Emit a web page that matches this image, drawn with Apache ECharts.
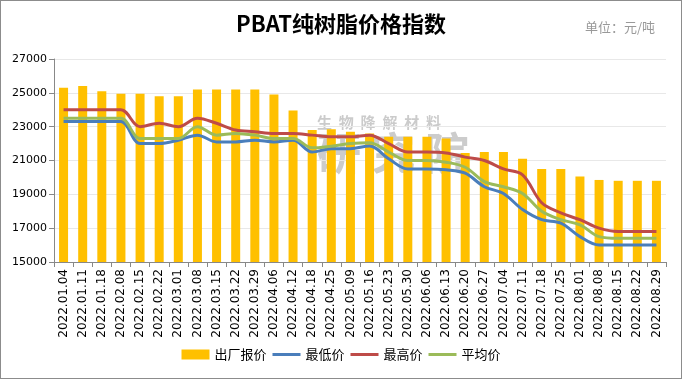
<!DOCTYPE html>
<html><head><meta charset="utf-8">
<script src="https://cdn.jsdelivr.net/npm/echarts@6/dist/echarts.min.js"></script>
<style>html,body{margin:0;padding:0;background:#fff}#c{width:682px;height:379px;box-sizing:border-box;border:1px solid #8c8c8c}</style>
</head><body><div id="c"></div>
<script>
const categories = ['2022.01.04','2022.01.11','2022.01.18','2022.02.08','2022.02.15','2022.02.22','2022.03.01','2022.03.08','2022.03.15','2022.03.22','2022.03.29','2022.04.06','2022.04.12','2022.04.18','2022.04.25','2022.05.09','2022.05.16','2022.05.23','2022.05.30','2022.06.06','2022.06.13','2022.06.20','2022.06.27','2022.07.04','2022.07.11','2022.07.18','2022.07.25','2022.08.01','2022.08.08','2022.08.15','2022.08.22','2022.08.29'];
const factoryPrice = [25300,25400,25100,24950,24950,24800,24800,25200,25200,25200,25200,24900,23950,22800,22850,22700,22600,22400,22400,22400,22300,21450,21500,21500,21100,20500,20500,20050,19850,19800,19800,19800];
const minPrice = [23300,23300,23300,23300,22000,22000,22200,22500,22100,22100,22200,22100,22200,21500,21700,21700,21850,21100,20500,20500,20450,20250,19450,19050,18100,17500,17300,16500,16000,16000,16000,16000];
const maxPrice = [24000,24000,24000,24000,23000,23200,23000,23500,23200,22800,22700,22600,22600,22500,22400,22400,22500,22000,21500,21500,21450,21200,21000,20500,20150,18500,17900,17500,17000,16800,16800,16800];
const avgPrice = [23500,23500,23500,23500,22300,22300,22300,23000,22500,22600,22500,22300,22300,21750,21850,22000,22050,21500,21000,21000,20900,20600,19750,19450,19050,18000,17500,17200,16500,16400,16400,16400];
const yTicks = {min:15000, max:27000, interval:2000};

const chart = echarts.init(document.getElementById('c'));
const lineIcon = 'path://M0,0 L0.01,0 L0.01,0.01 L0,0.01 Z M0,3.5 L28,3.5 L28,6.5 L0,6.5 Z M27.99,9.99 L28,9.99 L28,10 L27.99,10 Z';
const lineS = (name, data, color) => ({name, type:'line', data, smooth:0.35, symbol:'none',
  lineStyle:{width:3, color}, itemStyle:{color}, z:3});
chart.setOption({
  animation:false,
  title:[{text:'PBAT纯树脂价格指数', left:'center', top:7,
    textStyle:{fontFamily:'Noto Sans CJK SC', fontSize:22, fontWeight:'bold', color:'#000'}},
    {text:'单位：元/吨', right:21, top:15, textStyle:{fontFamily:'Noto Sans CJK SC', fontSize:13, fontWeight:'normal', color:'#999'}}],
  graphic:[
    {type:'text', left:316, top:114, style:{text:'生  物  降  解  材  料', font:'bold 15px "Noto Sans CJK SC"', fill:'rgba(140,140,140,0.45)'}},
    {type:'text', left:316, top:130, style:{text:'研 究 院', font:'bold 44px "Noto Sans CJK SC"', fill:'rgba(110,110,110,0.35)'}}
  ],
  legend:{bottom:12, left:'center', itemGap:6, itemWidth:28, itemHeight:10,
    textStyle:{fontFamily:'Noto Sans CJK SC', fontSize:13, color:'#000'},
    itemStyle:{borderWidth:0},
    data:[{name:'出厂报价', icon:'rect'},{name:'最低价', icon:lineIcon},{name:'最高价', icon:lineIcon},{name:'平均价', icon:lineIcon}]},
  grid:{left:53, right:15, top:58, bottom:116, containLabel:false},
  xAxis:{type:'category', data:categories, boundaryGap:true,
    axisLine:{lineStyle:{color:'#888'}}, axisTick:{show:true, alignWithLabel:false, length:5, lineStyle:{color:'#888'}},
    axisLabel:{rotate:90, interval:0, fontFamily:'DejaVu Sans', fontSize:12, color:'#000', margin:7}},
  yAxis:{type:'value', min:yTicks.min, max:yTicks.max, interval:yTicks.interval,
    axisLine:{show:true, lineStyle:{color:'#888'}}, axisTick:{show:true, length:5, lineStyle:{color:'#888'}},
    axisLabel:{fontFamily:'DejaVu Sans', fontSize:11, color:'#000', margin:7, formatter: v => String(v)},
    splitLine:{lineStyle:{color:'#e8e8e8'}}},
  series:[
    {name:'出厂报价', type:'bar', data:factoryPrice, barWidth:9, itemStyle:{color:'#FFC000'}, z:2},
    lineS('最低价', minPrice, '#4A7EBB'),
    lineS('最高价', maxPrice, '#BE4B48'),
    lineS('平均价', avgPrice, '#9BBB59')
  ]
});
</script></body></html>
